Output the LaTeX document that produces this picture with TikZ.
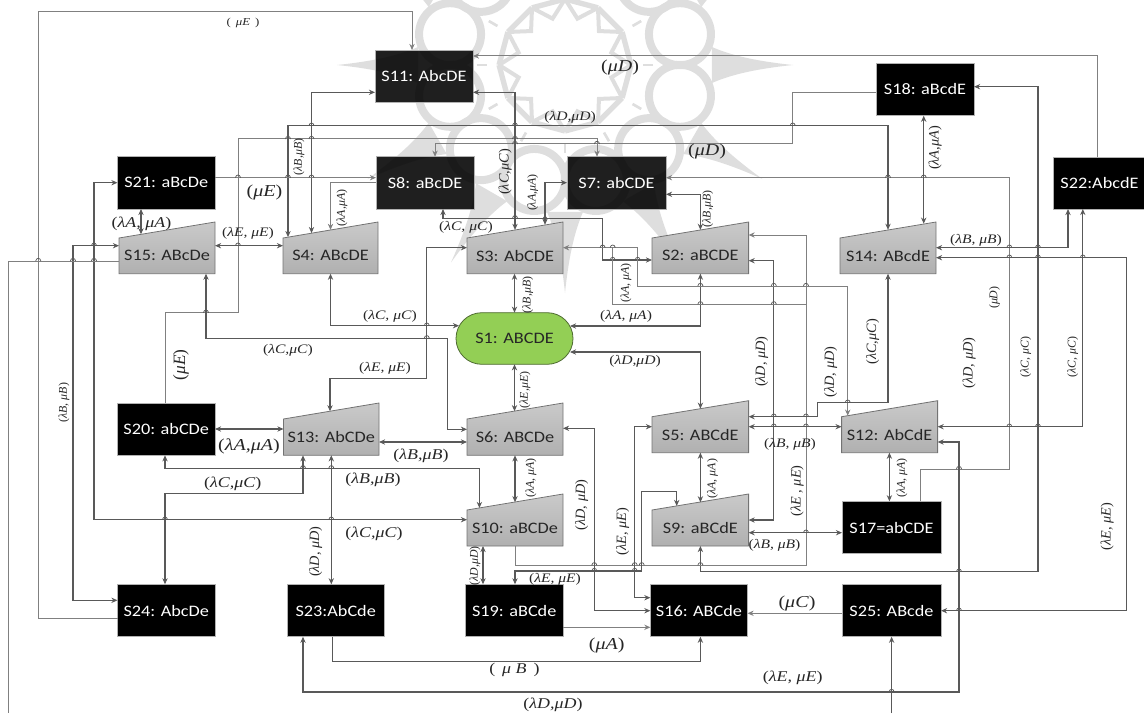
\documentclass[tikz,border=0pt]{standalone}
\usepackage{fontspec}
\usetikzlibrary{arrows.meta,backgrounds,calc}
\newfontfamily\nodefont[FakeStretch=1.14]{Carlito}
\newfontfamily\labfont[FakeStretch=1.2]{Liberation Serif}
\newfontfamily\labfontr{Liberation Serif}
\definecolor{wiredark}{HTML}{595959}
\definecolor{wirelight}{HTML}{808080}
\definecolor{marklight}{HTML}{DEDEDE}
\definecolor{pillfill}{HTML}{93CF55}
\definecolor{pilledge}{HTML}{4F6B32}
\newcounter{lbn}
\tikzset{
  x=0.75pt,y=-0.75pt,
  >={Stealth[length=4.6pt,width=4pt]},
  wire/.style={draw=wiredark,line width=0.8pt},
  wirel/.style={draw=wirelight,line width=0.75pt},
  hopline/.style={draw=wiredark,line width=0.55pt},
  blackbox/.style={draw=gray!60,line width=0.5pt,fill=black,text=white,inner sep=0pt,outer sep=0pt,font=\nodefont\fontsize{12pt}{14pt}\selectfont},
  darkbox/.style={blackbox,fill opacity=0.88,text opacity=1},
  trapbox/.style={inner sep=0pt,outer sep=0pt,text=black!85,font=\nodefont\fontsize{12pt}{14pt}\selectfont},
  trapfill/.style={draw=black!55,line width=0.6pt,top color=black!21,bottom color=black!31},
  pillbox/.style={draw=pilledge,line width=0.6pt,fill=pillfill,rounded corners=19.3pt,inner sep=0pt,outer sep=0pt,text=black!85,font=\nodefont\fontsize{12pt}{14pt}\selectfont},
  lab/.style={inner sep=0pt,outer sep=0pt,text=black!85,font=\labfont\fontsize{9.75pt}{12pt}\selectfont},
  labs/.style={lab,font=\labfont\fontsize{8pt}{9pt}\selectfont},
  labm/.style={lab,font=\labfont\fontsize{11.2pt}{14pt}\selectfont},
  labl/.style={lab,font=\labfont\fontsize{12.5pt}{14pt}\selectfont},
  ups/.style={lab,rotate=90,font=\labfontr\fontsize{8.9pt}{10pt}\selectfont},
  upm/.style={lab,rotate=90,font=\labfontr\fontsize{10.7pt}{12pt}\selectfont},
  upl/.style={lab,rotate=90,font=\labfontr\fontsize{13pt}{15pt}\selectfont},
}
\newcommand{\bx}[7]{%
  \pgfmathsetmacro\bw{(#5-#3)*0.75}\pgfmathsetmacro\bh{(#6-#4)*0.75}%
  \node[#1,minimum width=\bw pt,minimum height=\bh pt] (#2) at ({(#3+#5)/2},{(#4+#6)/2}) {#7};}
\newcommand{\tp}[6]{%
  \pgfmathsetmacro\bw{(#4-#2)*0.75}\pgfmathsetmacro\bh{(#5-#3)*0.75}%
  \node[trapbox,minimum width=\bw pt,minimum height=\bh pt] (#1) at ({(#2+#4)/2},{(#3+#5)/2}) {#6};
  \begin{pgfonlayer}{background}
    \path[trapfill] (#1.south west) -- (#1.south east) -- ($(#1.north east)+(0,-16)$) -- (#1.north west) -- cycle;
  \end{pgfonlayer}}
\newcommand{\lb}[4][lab]{\stepcounter{lbn}\node[#1] (lab\arabic{lbn}) at (#2,#3) {#4};}
\begin{document}
\begin{tikzpicture}
\useasboundingbox (0,0) rectangle (1144,713);
% watermark rosette
\begin{pgfonlayer}{background}
\begin{scope}[shift={(565,65)}]
\foreach \k in {0,30,...,330}{
  \fill[marklight] (\k-7:148) .. controls (\k-3:168) and (\k-1:195) .. (\k:228) .. controls (\k+1:195) and (\k+3:168) .. (\k+7:148) -- cycle;
  \draw[marklight,line width=6pt] (\k+15:119) circle[radius=31];
  \draw[marklight,line width=4pt] (\k:66) -- (\k+30:66);
  \draw[marklight,line width=3pt] (\k:66) -- (\k+15:48) -- (\k+30:66);
  \draw[marklight,line width=2pt] (\k:88) -- ++(\k:-10);
}
\end{scope}
\end{pgfonlayer}
% black boxes
\bx{darkbox}{s11}{375}{50}{473}{102.5}{S11: AbcDE}
\bx{blackbox}{s21}{117.5}{156.7}{215}{209}{S21: aBcDe}
\bx{darkbox}{s8}{376}{156.7}{474}{209}{S8: aBcDE}
\bx{darkbox}{s7}{567}{156.7}{666}{209}{S7: abCDE}
\bx{blackbox}{s18}{876}{63}{974}{115.7}{S18: aBcdE}
\bx{blackbox}{s22}{1053}{157}{1146}{209}{S22:AbcdE}
\bx{blackbox}{s20}{117.5}{403.3}{215}{455.3}{S20: abCDe}
\bx{blackbox}{s17}{842}{501.3}{941}{553.7}{S17=abCDE}
\bx{blackbox}{s24}{117.5}{584.3}{215}{636.7}{S24: AbcDe}
\bx{blackbox}{s23}{287}{584.3}{384.5}{636.7}{S23:AbCde}
\bx{blackbox}{s19}{465.5}{584.3}{563}{636.7}{S19: aBCde}
\bx{blackbox}{s16}{650.4}{584.3}{747.5}{636.7}{S16: ABCde}
\bx{blackbox}{s25}{842}{584.3}{941}{636.7}{S25: ABcde}
% trapezoids
\tp{s15}{119}{238}{215}{273.7}{S15: ABcDe}
\tp{s4}{283}{238}{378}{273.7}{S4: ABcDE}
\tp{s3}{467}{238}{563}{273.7}{S3: AbCDE}
\tp{s2}{652}{238}{748.6}{273.7}{S2: aBCDE}
\tp{s14}{840}{238}{936}{273.7}{S14: ABcdE}
\tp{s13}{283.5}{419}{379}{455.3}{S13: AbCDe}
\tp{s6}{467}{419}{563}{455.3}{S6: ABCDe}
\tp{s5}{652}{416.7}{748.6}{452.7}{S5: ABCdE}
\tp{s12}{841.6}{416.7}{937.6}{452.7}{S12: AbCdE}
\tp{s10}{467}{510}{563}{546}{S10: aBCDe}
\tp{s9}{652}{510}{748.6}{546}{S9: aBCdE}
% S1 pill
\bx{pillbox}{s1}{456}{312.7}{573}{364.3}{S1: ABCDE}
% points on the slanted tops
\coordinate (s4a) at (288,237.1); \coordinate (s4b) at (311.5,233.1); \coordinate (s4c) at (330.5,229.9);
\coordinate (s3a) at (515,229.9); \coordinate (s3b) at (545,224.8);
\coordinate (s2a) at (700.4,229.9);
\coordinate (s14a) at (888,229.8); \coordinate (s14b) at (923.7,223.7);
\coordinate (s15a) at (141,234.3);
\coordinate (s13a) at (330,411.3); \coordinate (s6a) at (515,411.2);
\coordinate (s10a) at (479.4,508); \coordinate (s10b) at (515,502.2);
\coordinate (s5a) at (700.4,408.7); \coordinate (s9a) at (700.4,502.3); \coordinate (s9b) at (676.7,506);
\coordinate (s12a) at (847.7,415.7);
\coordinate (s1e) at (570,326); \coordinate (s1f) at (570,352); \coordinate (s1w) at (459,325.7);
\coordinate (leftend) at (8.8,713); \coordinate (bottomend) at (891.6,713);
% connectors
\draw[wirel,->] (s24.west |- 0,618.3) -- (38.3,618.3) -- (38.3,11.7) -- (412,11.7) -- (s11.north -| 412,0);
\draw[wirel,->] (s22.north -| 1097.7,0) -- (1097.7,56) -- (s11.east |- 0,56);
\draw[wirel,->] (s18.west |- 0,92.3) -- (792.7,92.3) -- (792.7,144) -- (435,144) -- (s8.north -| 435,0);
\draw[wirel,->] (s20.north -| 165,0) -- (165,312.7) -- (238,312.7) -- (238,139) -- (597,139) -- (s7.north -| 597,0);
\draw[wire,<->] (s4a) -- (288,125.7) -- (888,125.7) -- (s14a);
\draw[wire,<->] (s11.west |- 0,92.3) -- (311.5,92.3) -- (s4b);
\draw[wire,<->] (s11.east |- 0,92.3) -- (515,92.3) -- (s3a);
\draw[wirel,->] (s21.east |- 0,177.7) -- (s8.west |- 0,177.7);
\draw[wirel,->] (s8.west |- 0,182.7) -- (330.5,182.7) -- (s4c);
\draw[wire,<->] (s8.south -| 443,0) -- (443,218.3) -- (602.6,218.3) -- (602.6,260) -- (s2.west |- 0,260);
\draw[wire,<->] (s7.west |- 0,182.7) -- (545,182.7) -- (s3b);
\fill[wiredark] (545,218.3) circle[radius=2];
\draw[wirel,->] (s17.north -| 920.7,0) -- (920.7,469) -- (1009.3,469) -- (1009.3,177.7) -- (s7.east |- 0,177.7);
\draw[wire,<->] (s18.east |- 0,86.7) -- (1038,86.7) -- (1038,571.7) -- (700.4,571.7) -- (s9.south -| 700.4,0);
\draw[wire,<->] (s18.south -| 923.7,0) -- (s14b);
\draw[wire,<->] (s7.east |- 0,194.3) -- (700.4,194.3) -- (s2a);
\draw[wirel,->] (s10.south -| 515,0) -- (515,565.3) -- (806,565.3) -- (806,235) -- (s2.east |- 0,235);
\draw[wire,<->] (s2.east |- 0,260.7) -- (773.8,260.7) -- (773.8,520) -- (s9.east |- 0,520);
\draw[wire,<->] (s2.south -| 700.4,0) -- (700.4,326) -- (s1e);
\draw[wirel,<->] (s3.east |- 0,247.7) -- (637.7,247.7) -- (637.7,286) -- (847.7,286) -- (s12a);
\draw[wirel] (612.7,247.7) -- (612.7,304.3) -- (806,304.3);
\draw[wire,<->] (s4.south -| 330.5,0) -- (330.5,325.7) -- (s1w);
\draw[wire,<->] (s3.west |- 0,247.7) -- (426.8,247.7) -- (426.8,378.3) -- (330,378.3) -- (s13a);
\draw[wire,<->] (s15.south -| 206,0) -- (206,338.3) -- (447.7,338.3) -- (447.7,429.3) -- (s6.west |- 0,429.3);
\draw[wire,<->] (s3.south -| s1.north) -- (s1.north);
\draw[wire,<->] (s1.south) -- (s6a -| s1.south);
\draw[wire,<->] (s6.south -| 515,0) -- (s10b);
\draw[wire,<->] (s1f) -- (700.4,352) -- (s5a);
\draw[wire,<->] (s6.east |- 0,428.3) -- (594.3,428.3) -- (594.3,610.7) -- (s16.west |- 0,610.7);
\draw[wire,<->] (s13.east |- 0,442) -- (s6.west |- 0,442);
\draw[wire,<->] (s20.east |- 0,429) -- (s13.west |- 0,429);
\draw[wire,<->] (s20.south -| 165,0) -- (165,468.3) -- (479.4,468.3) -- (s10a);
\draw[wire,<->] (s13.south -| 303,0) -- (303,493.7) -- (165,493.7) -- (s24.north -| 165,0);
\draw[wire,<->] (s13.south -| 331.3,0) -- (s23.north -| 331.3,0);
\draw[wire,<->] (s21.west |- 0,182.7) -- (94,182.7) -- (94,519.7) -- (s10.west |- 0,519.7);
\draw[wire,<->] (s15.west |- 0,245.7) -- (73,245.7) -- (73,600.3) -- (s24.west |- 0,600.3);
\draw[wirel] (s15.west |- 0,261) -- (8.8,261) -- (leftend);
\draw[wire,<->] (s21.south -| 141,0) -- (s15a);
\draw[wire,<->] (s15.east |- 0,245.7) -- (s4.west |- 0,245.7);
\draw[wire,<->] (s12.east |- 0,426.7) -- (1082.8,426.7) -- (s22.south -| 1082.8,0);
\draw[wire,<->] (s14.east |- 0,247.7) -- (1068,247.7) -- (s22.south -| 1068,0);
\draw[wire,<->] (s14.east |- 0,257.7) -- (1126.5,257.7) -- (1126.5,610.7) -- (s25.east |- 0,610.7);
\draw[wire,<->] (s14.south -| 888,0) -- (888,402.7) -- (817.7,402.7) -- (817.7,416.7) -- (s5.east |- 0,416.7);
\draw[wire,<->] (s5.east |- 0,426.7) -- (s12.west |- 0,426.7);
\draw[wire,<->] (s5.west |- 0,426.7) -- (634.7,426.7) -- (634.7,597.7) -- (s16.west |- 0,597.7);
\draw[wire,<->] (s9b) -- (676.7,491.7) -- (641.7,491.7) -- (641.7,571) -- (515,571) -- (s19.north -| 515,0);
\draw[wire,<->] (s10.south -| 483,0) -- (s19.north -| 483,0);
\draw[wirel,->] (s19.east |- 0,627.3) -- (s16.west |- 0,627.3);
\draw[wire,->] (s23.south -| 332.7,0) -- (332.7,661.3) -- (700.4,661.3) -- (s16.south -| 700.4,0);
\draw[wire,<->] (s23.south -| 303,0) -- (303,692) -- (959,692) -- (959,442) -- (s12.east |- 0,442);
\draw[wire,->] (bottomend) -- (s25.south -| 891.6,0);
\draw[wirel,->] (s25.west |- 0,613.3) -- (s16.east |- 0,613.3);
\draw[wire,<->] (s12.south -| 889.4,0) -- (s17.north -| 889.4,0);
\draw[wire,<->] (s5.south -| 700.4,0) -- (s9a);
\draw[wire,<->] (s9.east |- 0,532.7) -- (s17.west |- 0,532.7);
% line hops
\foreach \hx/\hy in {311.5/125.7,515/125.7,792.7/125.7,288/139,311.5/139,515/139,515/144,597/144,238/177.7,288/177.7,311.5/177.7,888/177.7,923.7/177.7,515/218.3,238/245.7,94/245.7,602.6/247.7,612.7/247.7,612.7/260,637.7/260,1009.3/247.7,1038/247.7,1009.3/257.7,1038/257.7,1082.8/257.7,38.3/261,73/261,94/261,700.4/286,773.8/286,806/286,700.4/304.3,773.8/304.3,206/312.7,426.8/325.7,426.8/338.3,847.7/402.7,773.8/416.7,806/416.7,773.8/426.7,806/426.7,1009.3/426.7,1038/426.7,959/469,303/468.3,331.3/468.3,165/519.7,331.3/519.7,806/532.7,594.3/565.3,634.7/565.3,641.7/565.3,700.4/565.3,594.3/571,634.7/571,959/571.7,959/610.7,891.6/692}
  \draw[hopline] (\hx-2.6,\hy) .. controls (\hx-2,\hy-3.6) and (\hx+2,\hy-3.6) .. (\hx+2.6,\hy);
% labels
\lb[labs]{243}{23}{(\, \textit{μE} \,)}
\lb[labl]{620}{68}{(\textit{μD})}
\lb{570}{117}{(\textit{λD,μD})}
\lb[labl]{707}{152}{(\textit{μD})}
\lb[ups]{299}{157}{(\textit{λB,μB})}
\lb[labl]{264.5}{192.7}{(\textit{μE})}
\lb[upm]{505}{172}{(\textit{λC,μC})}
\lb[ups]{532.6}{192.7}{(\textit{λA,μA})}
\lb[ups]{342}{208}{(\textit{λA,μA})}
\lb[labm]{141.5}{224}{(\textit{λA, μA})}
\lb{248}{233}{(\textit{λE, μE})}
\lb{466}{227}{(\textit{λC, μC})}
\lb[ups]{707.7}{209}{(\textit{λB,μB})}
\lb[upm]{935}{148}{(\textit{λA,μA})}
\lb{976}{240}{(\textit{λB, μB})}
\lb[ups]{994.5}{297.7}{(\textit{μD})}
\lb[ups]{626}{283}{(\textit{λA, μA})}
\lb{626}{316.7}{(\textit{λA, μA})}
\lb{390}{316.7}{(\textit{λC, μC})}
\lb{288}{350}{(\textit{λC,μC})}
\lb[ups]{527.7}{295}{(\textit{λB,μB})}
\lb{635}{361.7}{(\textit{λD,μD})}
\lb[upm]{761.7}{361.7}{(\textit{λD, μD})}
\lb[upm]{830.7}{372}{(\textit{λD, μD})}
\lb[upm]{872.7}{341.7}{(\textit{λC,μC})}
\lb[upm]{969}{363}{(\textit{λD, μD})}
\lb[ups]{1025.7}{357}{(\textit{λC, μC})}
\lb[ups]{1072.7}{357}{(\textit{λC, μC})}
\lb[upl]{181}{365}{(\textit{μE})}
\lb{385}{368.3}{(\textit{λE, μE})}
\lb[ups]{525}{390}{(\textit{λE,μE})}
\lb[ups]{64}{402.7}{(\textit{λB, μB})}
\lb[labl]{249}{446.7}{(\textit{λA,μA})}
\lb[labm]{421}{456}{(\textit{λB,μB})}
\lb[labm]{232.8}{484}{(\textit{λC,μC})}
\lb[labm]{373}{480}{(\textit{λB,μB})}
\lb[ups]{531}{478}{(\textit{λA, μA})}
\lb[labm]{374}{533.7}{(\textit{λC,μC})}
\lb[upm]{315.6}{551.7}{(\textit{λD, μD})}
\lb[ups]{475}{566}{(\textit{λD,μD})}
\lb{555}{579}{(\textit{λE, μE})}
\lb[labm]{514.4}{670}{(\, \textit{μ B} \,)}
\lb[labm]{553}{705}{(\textit{λD,μD})}
\lb[labl]{606.7}{645.3}{(\textit{μA})}
\lb[labl]{797}{603}{(\textit{μC})}
\lb[labm]{792.7}{678}{(\textit{λE, μE})}
\lb[upm]{1107}{526.7}{(\textit{λE, μE})}
\lb[upm]{581.7}{505}{(\textit{λD, μD})}
\lb[upm]{622.7}{531.7}{(\textit{λE, μE})}
\lb[ups]{712.5}{478.7}{(\textit{λA, μA})}
\lb[upm]{797}{491}{(\textit{λE , μE})}
\lb{790}{444.3}{(\textit{λB, μB})}
\lb{774.5}{545}{(\textit{λB, μB})}
\lb[ups]{902}{478}{(\textit{λA, μA})}
\end{tikzpicture}
\end{document}
